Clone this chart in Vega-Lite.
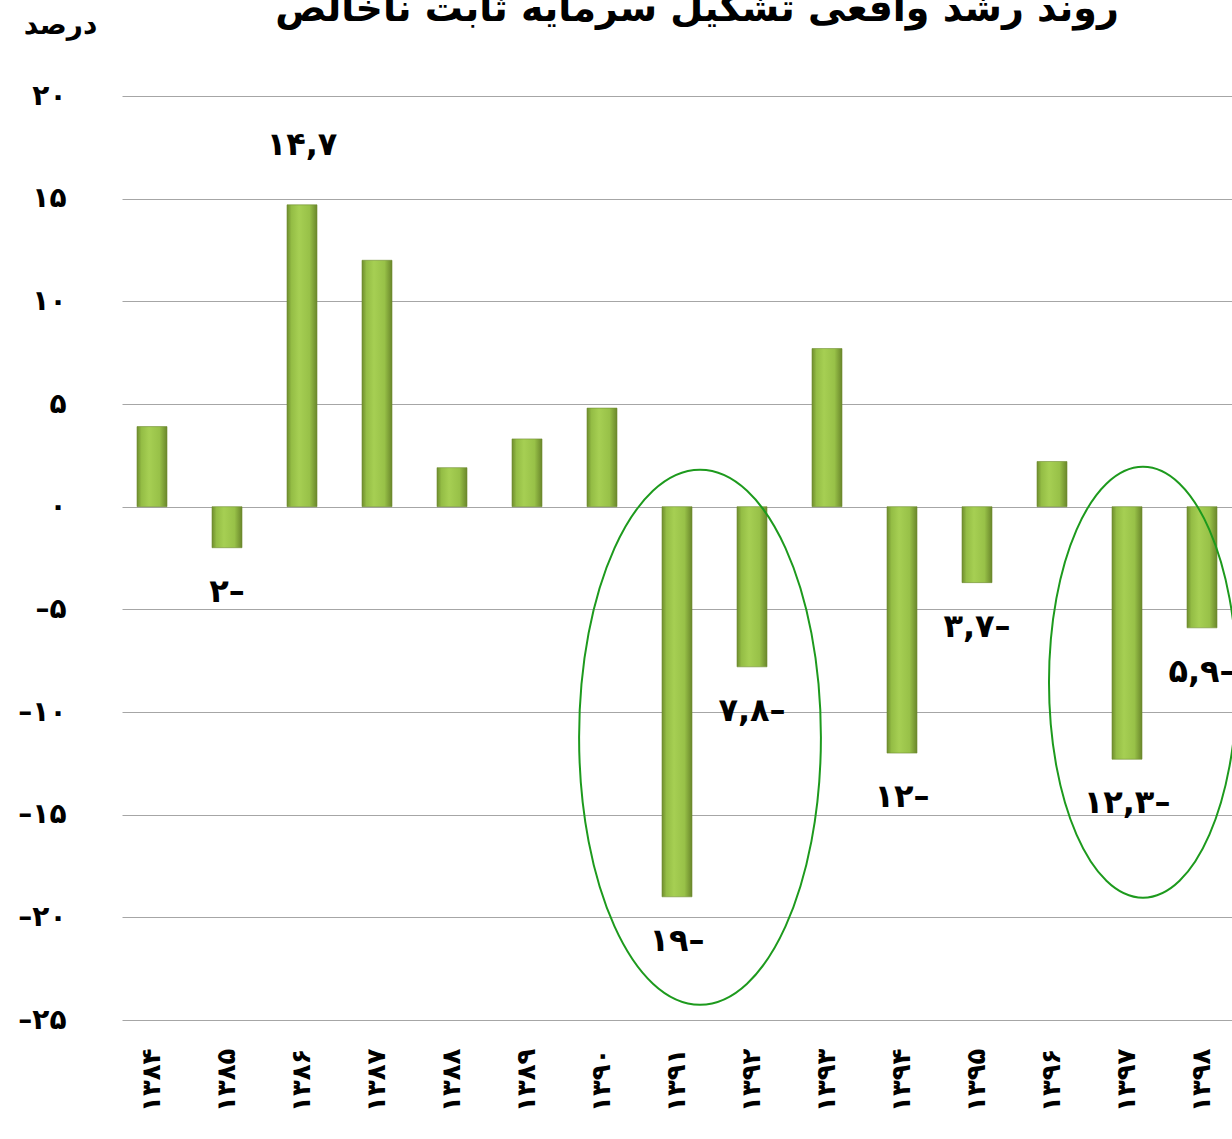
{
  "$schema": "https://vega.github.io/schema/vega-lite/v6.json",
  "autosize": {"type": "none"},
  "padding": {"left": 122, "top": 96, "right": 0, "bottom": 119},
  "width": 1110,
  "height": 924,
  "background": "white",
  "config": {"view": {"stroke": null}, "font": "DejaVu Sans"},
  "title": {
    "text": "روند رشد واقعی تشکیل سرمایه ثابت ناخالص",
    "frame": "group",
    "anchor": "middle",
    "baseline": "bottom",
    "offset": -56,
    "dx": 20,
    "fontSize": 38,
    "fontWeight": "bold",
    "font": "DejaVu Sans",
    "color": "black"
  },
  "datasets": {
    "bars": [
      {"year": "1384", "value": 3.9, "label": null},
      {"year": "1385", "value": -2, "label": "۲–"},
      {"year": "1386", "value": 14.7, "label": "۱۴,۷"},
      {"year": "1387", "value": 12, "label": null},
      {"year": "1388", "value": 1.9, "label": null},
      {"year": "1389", "value": 3.3, "label": null},
      {"year": "1390", "value": 4.8, "label": null},
      {"year": "1391", "value": -19, "label": "۱۹–"},
      {"year": "1392", "value": -7.8, "label": "۷,۸–"},
      {"year": "1393", "value": 7.7, "label": null},
      {"year": "1394", "value": -12, "label": "۱۲–"},
      {"year": "1395", "value": -3.7, "label": "۳,۷–"},
      {"year": "1396", "value": 2.2, "label": null},
      {"year": "1397", "value": -12.3, "label": "۱۲,۳–"},
      {"year": "1398", "value": -5.9, "label": "۵,۹–"}
    ],
    "ellipses": [
      {"group": "a", "year": "1391", "center": -11.23},
      {"group": "b", "year": "1397", "center": -8.55}
    ]
  },
  "layer": [
    {
      "data": {"name": "bars"},
      "mark": {
        "type": "bar",
        "color": {
          "gradient": "linear",
          "x1": 0, "y1": 0, "x2": 1, "y2": 0,
          "stops": [
            {"offset": 0, "color": "#6f8d2e"},
            {"offset": 0.15, "color": "#94bd45"},
            {"offset": 0.4, "color": "#a6cf53"},
            {"offset": 0.75, "color": "#98c148"},
            {"offset": 1, "color": "#6a872b"}
          ]
        },
        "stroke": "#6f8c30",
        "strokeWidth": 0.6
      },
      "encoding": {
        "x": {
          "field": "year", "type": "ordinal", "sort": "ascending",
          "scale": {"paddingInner": 0.6, "paddingOuter": 0.2},
          "axis": {
            "title": null,
            "labelAngle": -90,
            "labelFontSize": 26,
            "labelFontWeight": "bold",
            "labelColor": "black",
            "labelPadding": 28,
            "ticks": false,
            "domain": false,
            "labelExpr": "replace(replace(replace(replace(replace(replace(replace(replace(replace(replace(toString(datum.value),regexp('0','g'),'۰'),regexp('1','g'),'۱'),regexp('2','g'),'۲'),regexp('3','g'),'۳'),regexp('4','g'),'۴'),regexp('5','g'),'۵'),regexp('6','g'),'۶'),regexp('7','g'),'۷'),regexp('8','g'),'۸'),regexp('9','g'),'۹')"
          }
        },
        "y": {
          "field": "value", "type": "quantitative",
          "scale": {"domain": [-25, 20], "nice": false, "zero": true},
          "axis": {
            "title": "درصد",
            "titleAngle": 0,
            "titleX": -62,
            "titleY": -71,
            "titleAlign": "center",
            "titleBaseline": "middle",
            "titleFontSize": 28,
            "titleFontWeight": "bold",
            "titleColor": "black",
            "values": [-25, -20, -15, -10, -5, 0, 5, 10, 15, 20],
            "grid": true,
            "gridColor": "#a6a6a6",
            "gridWidth": 1,
            "domain": false,
            "ticks": false,
            "labelFontSize": 28,
            "labelFontWeight": "bold",
            "labelColor": "black",
            "labelPadding": 56,
            "labelExpr": "replace(replace(replace(replace(replace(replace(replace(replace(replace(replace(replace(toString(datum.value),regexp('0','g'),'۰'),regexp('1','g'),'۱'),regexp('2','g'),'۲'),regexp('3','g'),'۳'),regexp('4','g'),'۴'),regexp('5','g'),'۵'),regexp('6','g'),'۶'),regexp('7','g'),'۷'),regexp('8','g'),'۸'),regexp('9','g'),'۹'),'-','–')"
          }
        }
      }
    },
    {
      "data": {"name": "bars"},
      "transform": [{"filter": "datum.label != null && datum.value < 0"}],
      "mark": {"type": "text", "dy": 44, "baseline": "middle", "align": "center", "fontSize": 32, "fontWeight": "bold", "color": "black"},
      "encoding": {
        "x": {"field": "year", "type": "ordinal"},
        "y": {"field": "value", "type": "quantitative"},
        "text": {"field": "label"}
      }
    },
    {
      "data": {"name": "bars"},
      "transform": [{"filter": "datum.label != null && datum.value > 0"}],
      "mark": {"type": "text", "dy": -60, "baseline": "middle", "align": "center", "fontSize": 32, "fontWeight": "bold", "color": "black"},
      "encoding": {
        "x": {"field": "year", "type": "ordinal"},
        "y": {"field": "value", "type": "quantitative"},
        "text": {"field": "label"}
      }
    },
    {
      "data": {"name": "ellipses"},
      "transform": [{"filter": "datum.group == 'a'"}],
      "mark": {
        "type": "point",
        "filled": false,
        "stroke": "#1d9a1d",
        "strokeWidth": 2,
        "opacity": 1,
        "size": 286225,
        "shape": "M0.538,0C0.538,0.5523,0.3356,1,0.086,1C-0.1636,1,-0.366,0.5523,-0.366,0C-0.366,-0.5523,-0.1636,-1,0.086,-1C0.3356,-1,0.538,-0.5523,0.538,0Z"
      },
      "encoding": {
        "x": {"field": "year", "type": "ordinal"},
        "y": {"field": "center", "type": "quantitative"}
      }
    },
    {
      "data": {"name": "ellipses"},
      "transform": [{"filter": "datum.group == 'b'"}],
      "mark": {
        "type": "point",
        "filled": false,
        "stroke": "#1d9a1d",
        "strokeWidth": 2,
        "opacity": 1,
        "size": 185761,
        "shape": "M0.51,0C0.51,0.5523,0.3151,1,0.0742,1C-0.1667,1,-0.362,0.5523,-0.362,0C-0.362,-0.5523,-0.1667,-1,0.0742,-1C0.3151,-1,0.51,-0.5523,0.51,0Z"
      },
      "encoding": {
        "x": {"field": "year", "type": "ordinal"},
        "y": {"field": "center", "type": "quantitative"}
      }
    }
  ]
}
